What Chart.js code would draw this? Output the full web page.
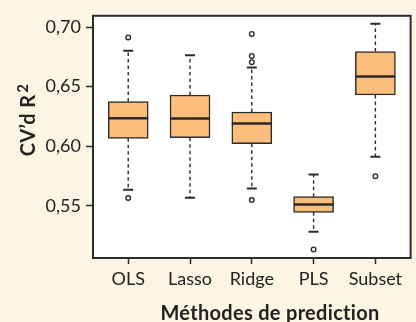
<!DOCTYPE html>
<html>
<head>
<meta charset="utf-8">
<script src="https://cdn.jsdelivr.net/npm/chart.js@4.4.1/dist/chart.umd.min.js"></script>
<style>
  html, body { margin: 0; padding: 0; background: #fdf5e4; }
  canvas { display: block; }
</style>
</head>
<body>
<canvas id="c" width="416" height="322"></canvas>
<script>
const categories = ['OLS', 'Lasso', 'Ridge', 'PLS', 'Subset'];
const q1 = [0.6067, 0.6072, 0.6022, 0.5447, 0.6430];
const medians = [0.6236, 0.6233, 0.6192, 0.5513, 0.6586];
const q3 = [0.6375, 0.6430, 0.6288, 0.5578, 0.6794];
const whiskerLow = [0.5636, 0.5569, 0.5647, 0.5283, 0.5913];
const whiskerHigh = [0.6802, 0.6763, 0.6661, 0.5763, 0.7028];
const outliers = [
  [0.6913, 0.5567],
  [],
  [0.6942, 0.6758, 0.6705, 0.5550],
  [0.5136],
  [0.5750]
];
const yTicks = [0.55, 0.60, 0.65, 0.70];
const xTitle = 'Méthodes de prediction';
const yTitle = 'CV’d R';
const yTitleSup = '2';

const ink = '#2b2b2b';

const boxData = categories.map((c, i) => ({ x: i + 1, y: [q1[i], q3[i]] }));
const outlierData = [];
outliers.forEach((arr, i) => arr.forEach(v => outlierData.push({ x: i + 1, y: v })));

const boxPlugin = {
  id: 'boxParts',
  beforeDraw(chart) {
    const { ctx, chartArea: a } = chart;
    ctx.save();
    ctx.fillStyle = '#ffffff';
    ctx.fillRect(a.left, a.top, a.right - a.left, a.bottom - a.top);
    ctx.restore();
  },
  beforeDatasetsDraw(chart) {
    const { ctx, scales: { x, y } } = chart;
    ctx.save();
    ctx.strokeStyle = ink;
    categories.forEach((c, i) => {
      const px = x.getPixelForValue(i + 1);
      ctx.setLineDash([3.5, 3]);
      ctx.lineWidth = 1.4;
      ctx.beginPath();
      ctx.moveTo(px, y.getPixelForValue(q3[i]));
      ctx.lineTo(px, y.getPixelForValue(whiskerHigh[i]));
      ctx.moveTo(px, y.getPixelForValue(q1[i]));
      ctx.lineTo(px, y.getPixelForValue(whiskerLow[i]));
      ctx.stroke();
      ctx.setLineDash([]);
      ctx.lineWidth = 2;
      ctx.beginPath();
      [whiskerHigh[i], whiskerLow[i]].forEach(v => {
        const py = y.getPixelForValue(v);
        ctx.moveTo(px - 5, py);
        ctx.lineTo(px + 5, py);
      });
      ctx.stroke();
    });
    ctx.restore();
  },
  afterDatasetsDraw(chart) {
    const { ctx, scales: { x, y }, chartArea: a } = chart;
    ctx.save();
    ctx.strokeStyle = ink;
    ctx.lineWidth = 2.5;
    categories.forEach((c, i) => {
      const px = x.getPixelForValue(i + 1);
      const py = y.getPixelForValue(medians[i]);
      ctx.beginPath();
      ctx.moveTo(px - 20, py);
      ctx.lineTo(px + 20, py);
      ctx.stroke();
    });
    ctx.lineWidth = 2;
    ctx.strokeRect(a.left, a.top, a.right - a.left, a.bottom - a.top);
    ctx.restore();
  },
  afterDraw(chart) {
    const { ctx } = chart;
    ctx.save();
    ctx.fillStyle = '#222';
    ctx.letterSpacing = '0.3px';
    ctx.font = 'bold 20px Lato';
    ctx.textAlign = 'center';
    ctx.textBaseline = 'alphabetic';
    ctx.fillText(xTitle, 270, 320);
    ctx.translate(35, 120);
    ctx.rotate(-Math.PI / 2);
    ctx.font = 'bold 20px Lato';
    const w1 = ctx.measureText(yTitle).width;
    ctx.font = 'bold 15px Lato';
    const w2 = ctx.measureText(yTitleSup).width;
    const total = w1 + 2 + w2;
    ctx.textAlign = 'left';
    ctx.font = 'bold 20px Lato';
    ctx.fillText(yTitle, -total / 2, 0);
    ctx.font = 'bold 15px Lato';
    ctx.fillText(yTitleSup, -total / 2 + w1 + 2, -7);
    ctx.restore();
  }
};

Chart.defaults.font.family = 'Lato';
Chart.defaults.color = '#222';

new Chart(document.getElementById('c'), {
  type: 'bar',
  data: {
    datasets: [
      {
        type: 'bar',
        data: boxData,
        backgroundColor: '#fcbe7a',
        borderColor: ink,
        borderWidth: 1.5,
        borderSkipped: false,
        barThickness: 40
      },
      {
        type: 'scatter',
        data: outlierData,
        pointRadius: 2.3,
        pointBackgroundColor: 'rgba(0,0,0,0)',
        pointBorderColor: ink,
        pointBorderWidth: 1.4
      }
    ]
  },
  options: {
    responsive: false,
    animation: false,
    layout: { padding: { top: 14, right: 2, left: 0, bottom: 0 } },
    plugins: { legend: { display: false }, tooltip: { enabled: false } },
    scales: {
      x: {
        type: 'linear',
        offset: false,
        min: 0.43,
        max: 5.57,
        afterBuildTicks: s => { s.ticks = categories.map((c, i) => ({ value: i + 1 })); },
        afterFit: s => { s.height = 64; },
        ticks: {
          callback: v => categories[Math.round(v) - 1],
          font: { size: 18 },
          padding: 4,
          autoSkip: false,
          maxRotation: 0,
          color: '#222'
        },
        grid: { offset: false, drawOnChartArea: false, drawTicks: true, tickLength: 6, tickColor: ink, tickWidth: 1.5 },
        border: { display: false }
      },
      y: {
        type: 'linear',
        min: 0.5064,
        max: 0.7094,
        afterBuildTicks: s => { s.ticks = yTicks.map(v => ({ value: v })); },
        afterFit: s => { s.width = 93; },
        ticks: {
          callback: v => v.toFixed(2).replace('.', ','),
          font: { size: 18 },
          padding: 5,
          color: '#222'
        },
        grid: { drawOnChartArea: false, drawTicks: true, tickLength: 7, tickColor: ink, tickWidth: 1.5 },
        border: { display: false }
      }
    }
  },
  plugins: [boxPlugin]
});
</script>
</body>
</html>
